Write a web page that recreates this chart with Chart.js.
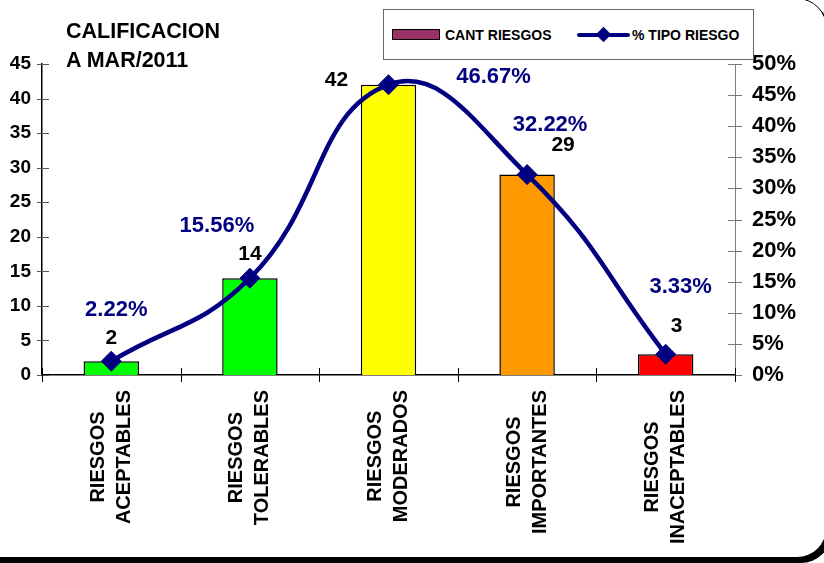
<!DOCTYPE html>
<html>
<head>
<meta charset="utf-8">
<script src="https://cdn.jsdelivr.net/npm/chart.js@4.4.0/dist/chart.umd.min.js"></script>
<style>
  html, body { margin: 0; padding: 0; background: #fff; overflow: hidden; }
  body { width: 824px; height: 563px; position: relative; font-family: "Liberation Sans", Arial, sans-serif; }
  .frame { position: absolute; left: -40px; top: -2px; width: 867px; height: 560px; box-sizing: border-box;
           border: 1px solid #000; border-radius: 30px; box-shadow: 4px 5px 0 #000; background: #fff; }
  #c { position: absolute; left: 0; top: 0; }
  .title { position: absolute; left: 66px; top: 17px; font-weight: bold; font-size: 21.5px; line-height: 29px; color: #000; }
  .legend { position: absolute; left: 383px; top: 9px; width: 371px; height: 51px; box-sizing: border-box;
            border: 1px solid #666; background: #fff; font-weight: bold; font-size: 14px; color: #000; }
  .legend span { position: absolute; top: 25px; transform: translateY(-50%); white-space: nowrap; }
  .sw-bar { position: absolute; left: 8px; top: 19px; width: 48px; height: 11px; box-sizing: border-box;
            background: #993366; border: 1.5px solid #000; }
  .sw-line { position: absolute; left: 193px; top: 23px; width: 53px; height: 4px; background: #000080; border-radius: 2px; }
  .sw-dia { position: absolute; left: 214px; top: 19px; width: 11px; height: 11px; background: #000080; transform: rotate(45deg); }
</style>
</head>
<body>
<div class="frame"></div>
<canvas id="c" width="824" height="563"></canvas>
<div class="title">CALIFICACION<br>A MAR/2011</div>
<div class="legend">
  <div class="sw-bar"></div><span style="left:61px">CANT RIESGOS</span>
  <div class="sw-line"></div><div class="sw-dia"></div><span style="left:248px">% TIPO RIESGO</span>
</div>
<script>
// ── DATA ─────────────────────────────────────────────────────────────
const categories = [
  ['RIESGOS', 'ACEPTABLES'],
  ['RIESGOS', 'TOLERABLES'],
  ['RIESGOS', 'MODERADOS'],
  ['RIESGOS', 'IMPORTANTES'],
  ['RIESGOS', 'INACEPTABLES'],
];
const cantRiesgos = [2, 14, 42, 29, 3];
const pctTipoRiesgo = [2.22, 15.56, 46.67, 32.22, 3.33];

// ── STYLE ────────────────────────────────────────────────────────────
const barColors = ['#00FF00', '#00FF00', '#FFFF00', '#FF9900', '#FF0000'];
const NAVY = '#000080';
const FONT = '"Liberation Sans", Arial, sans-serif';
// label nudges (px) relative to bar top / line point
const barLabelShift = [[0, -23], [0, -24], [-52, -5], [36, -29], [11, -28]];
const pctLabelShift = [[5, -51], [-33, -52], [105, -8], [23, -50], [15, -67]];

// ── PLUGINS ──────────────────────────────────────────────────────────
const axisDecor = {
  id: 'axisDecor',
  afterDraw(chart) {
    const { ctx, chartArea: a, scales } = chart;
    ctx.save();
    // y ticks (left)
    ctx.strokeStyle = '#555'; ctx.lineWidth = 1;
    scales.y.ticks.forEach((t, i) => {
      const py = Math.round(scales.y.getPixelForTick(i)) + 0.5;
      ctx.beginPath(); ctx.moveTo(a.left - 5, py); ctx.lineTo(a.left + 7, py); ctx.stroke();
    });
    // y2 ticks (right)
    ctx.strokeStyle = '#777';
    scales.y2.ticks.forEach((t, i) => {
      const py = Math.round(scales.y2.getPixelForTick(i)) + 0.5;
      ctx.beginPath(); ctx.moveTo(a.right - 7, py); ctx.lineTo(a.right + 7, py); ctx.stroke();
    });
    // x ticks at category boundaries
    ctx.strokeStyle = '#000';
    const n = categories.length, w = (a.right - a.left) / n;
    for (let i = 0; i <= n; i++) {
      const px = Math.round(a.left + i * w) + 0.5;
      ctx.beginPath(); ctx.moveTo(px, a.bottom - 7); ctx.lineTo(px, a.bottom + 7); ctx.stroke();
    }
    // category labels, rotated
    ctx.font = 'bold 20px ' + FONT;
    ctx.fillStyle = '#000';
    ctx.textAlign = 'center'; ctx.textBaseline = 'middle';
    categories.forEach((lines, i) => {
      const px = scales.x.getPixelForValue(i);
      const maxW = Math.max(...lines.map(l => ctx.measureText(l).width));
      const cy = a.bottom + 15 + maxW / 2;
      const lh = 26;
      lines.forEach((l, j) => {
        const lx = px + (j - (lines.length - 1) / 2) * lh;
        ctx.save(); ctx.translate(lx, cy); ctx.rotate(-Math.PI / 2);
        ctx.fillText(l, 0, 0); ctx.restore();
      });
    });
    ctx.restore();
  },
  afterDatasetsDraw(chart) {
    const { ctx } = chart;
    const barMeta = chart.getDatasetMeta(1), lineMeta = chart.getDatasetMeta(0);
    ctx.save();
    ctx.textAlign = 'center'; ctx.textBaseline = 'middle';
    ctx.font = 'bold 21px ' + FONT; ctx.fillStyle = '#000';
    barMeta.data.forEach((el, i) => {
      ctx.fillText(String(cantRiesgos[i]), el.x + barLabelShift[i][0], el.y + barLabelShift[i][1]);
    });
    ctx.font = 'bold 22px ' + FONT; ctx.fillStyle = NAVY;
    lineMeta.data.forEach((el, i) => {
      ctx.fillText(pctTipoRiesgo[i].toFixed(2) + '%', el.x + pctLabelShift[i][0], el.y + pctLabelShift[i][1]);
    });
    ctx.restore();
  }
};

// ── CHART ────────────────────────────────────────────────────────────
new Chart(document.getElementById('c'), {
  type: 'bar',
  data: {
    labels: categories,
    datasets: [
      { type: 'line', label: '% TIPO RIESGO', data: pctTipoRiesgo, yAxisID: 'y2', order: 0,
        borderColor: NAVY, borderWidth: 4.5, tension: 0.45, fill: false, clip: false,
        pointStyle: 'rectRot', pointRadius: 10, pointBackgroundColor: NAVY, pointBorderColor: NAVY, pointBorderWidth: 1 },
      { type: 'bar', label: 'CANT RIESGOS', data: cantRiesgos, yAxisID: 'y', order: 1,
        backgroundColor: barColors, borderColor: '#000', borderWidth: 1.5,
        barPercentage: 0.4, categoryPercentage: 1 },
    ]
  },
  options: {
    responsive: false, animation: false,
    layout: { padding: { top: 64 } },
    plugins: { legend: { display: false }, tooltip: { enabled: false } },
    scales: {
      x: { offset: true, grid: { display: false }, ticks: { display: false },
           border: { display: true, color: '#000', width: 1.5 },
           afterFit: s => { s.height = 188; } },
      y: { position: 'left', min: 0, max: 45, grid: { display: false, drawTicks: false },
           border: { display: true, color: '#000', width: 1.5 },
           ticks: { stepSize: 5, color: '#000', padding: 11, font: { family: FONT, size: 19, weight: 'bold' } },
           afterFit: s => { s.width = 42; } },
      y2: { position: 'right', min: 0, max: 50, grid: { display: false, drawTicks: false },
            border: { display: true, color: '#808080', width: 1 },
            ticks: { stepSize: 5, color: '#000', padding: 17, callback: v => v + '%',
                     font: { family: FONT, size: 22, weight: 'bold' } },
            afterFit: s => { s.width = 89; } }
    }
  },
  plugins: [axisDecor]
});
</script>
</body>
</html>
